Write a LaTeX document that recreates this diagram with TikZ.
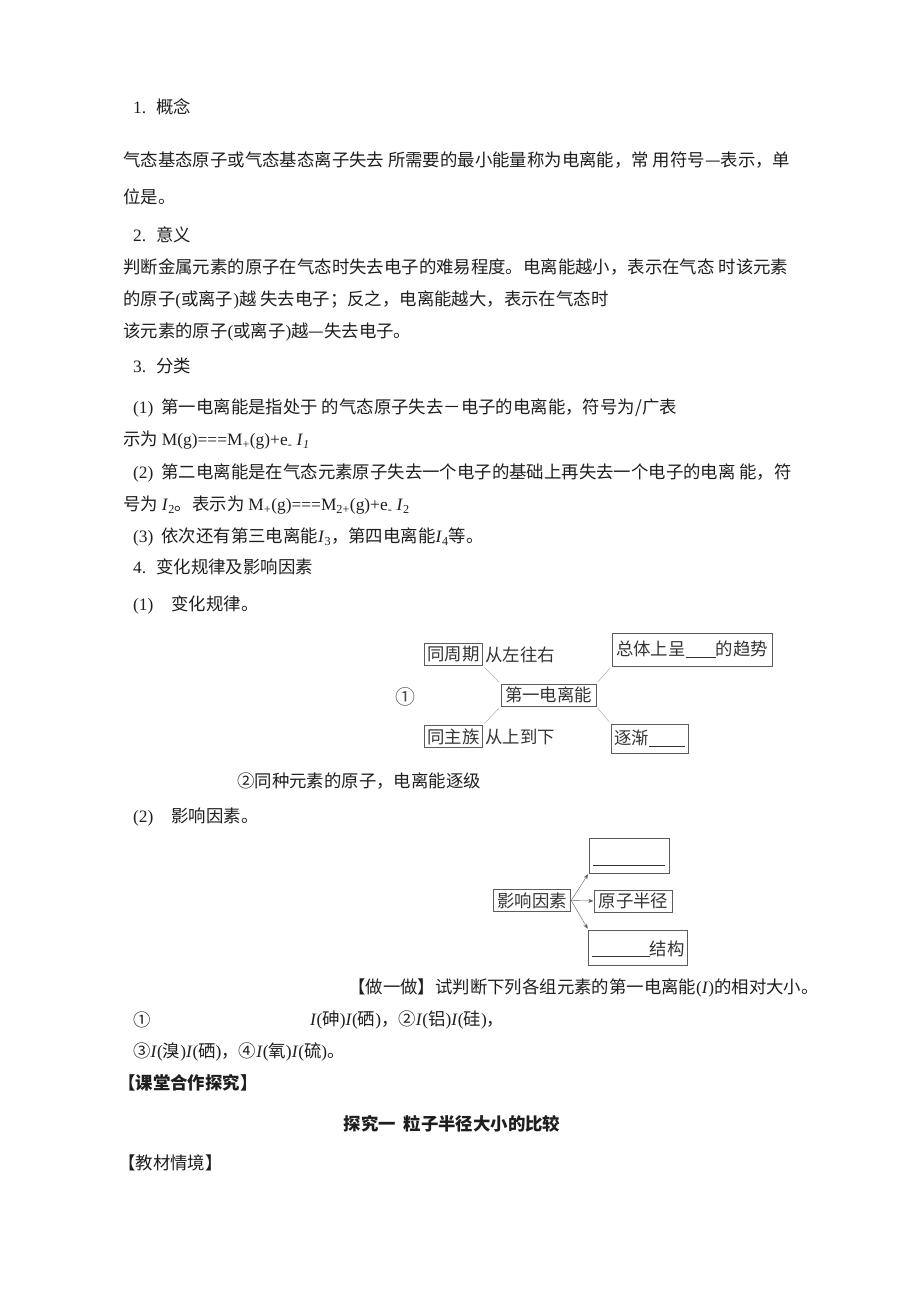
\documentclass[tikz,border=0pt]{standalone}
\usepackage{fontspec}
\setmainfont{Noto Sans CJK SC}
\newfontfamily\lat{Liberation Serif}
\usepackage{xcolor}
\usetikzlibrary{arrows.meta,positioning}
\definecolor{boxgray}{HTML}{5C5C5C}
\definecolor{linkgray}{HTML}{A0A0A0}
\definecolor{ink}{HTML}{1E1E1E}
\newcommand{\blank}[1]{\rule[-2pt]{#1}{0.6pt}}
\newcommand{\ienergy}[1]{{\lat\textit{I}\textsubscript{#1}}}
\tikzset{%
  line/.style={anchor=west,inner sep=0pt,text=ink},
  box/.style={draw=boxgray,line width=0.8pt,inner sep=3pt,text=black!80},
  link/.style={draw=linkgray,thin,shorten <=2pt,shorten >=2pt},
  arrow/.style={draw=boxgray,thin,-{Stealth[length=5pt,width=4pt]},shorten >=1pt},
}

\begin{document}
\begin{tikzpicture}[x=1pt,y=-1pt,font=\fontsize{17.4}{20}\selectfont]
      \useasboundingbox (0,0) rectangle (920,1302);

      % 1. concept
      \node[line] (concept) at (133,107) {{\lat 1.}\hspace{10pt}概念};
      \node[line] (conceptA) at (123,160) {气态基态原子或气态基态离子失去 所需要的最小能量称为电离能，常 用符号—表示，单};
      \node[line] (conceptB) at (123,197) {位是。};

      % 2. meaning
      \node[line] (meaning) at (133,235) {{\lat 2.}\hspace{10pt}意义};
      \node[line] (meaningA) at (123,267) {判断金属元素的原子在气态时失去电子的难易程度。电离能越小，表示在气态 时该元素};
      \node[line] (meaningB) at (123,300) {的原子{\lat (}或离子{\lat )}越 失去电子；反之，电离能越大，表示在气态时};
      \node[line] (meaningC) at (123,332) {该元素的原子{\lat (}或离子{\lat )}越—失去电子。};

      % 3. classes
      \node[line] (classes) at (133,366) {{\lat 3.}\hspace{10pt}分类};
      \node[line] (firstA) at (133,408) {{\lat (1)}\hspace{8pt}第一电离能是指处于 的气态原子失去－电子的电离能，符号为/广表};
      \node[line] (firstB) at (123,440) {示为 {\lat M(g)===M\textsubscript{+}(g)+e\textsubscript{-} \textit{I}\textsubscript{\textit{1}}}};
      \node[line] (secondA) at (133,473) {{\lat (2)}\hspace{8pt}第二电离能是在气态元素原子失去一个电子的基础上再失去一个电子的电离 能，符};
      \node[line] (secondB) at (123,505) {号为 \ienergy{2}。表示为 {\lat M\textsubscript{+}(g)===M\textsubscript{2+}(g)+e\textsubscript{-} }\ienergy{2}};
      \node[line] (thirdA) at (133,537) {{\lat (3)}\hspace{8pt}依次还有第三电离能\ienergy{3}，第四电离能\ienergy{4}等。};

      % 4. trends
      \node[line] (trends) at (133,567) {{\lat 4.}\hspace{10pt}变化规律及影响因素};
      \node[line] (rules) at (133,605) {{\lat (1)}\hspace{18pt}变化规律。};

      \node[inner sep=0pt,text=black!70] (markOne) at (405,697) {\fontsize{20}{22}\selectfont ①};
      \node[box,inner xsep=4pt] (firstIE) at (548.5,695) {第一电离能};
      \node[box] (period) at (453.5,654.5) {同周期};
      \node[inner sep=0pt,text=black!80,right=2pt of period] (leftRight) {从左往右};
      \node[box] (group) at (453.5,736.5) {同主族};
      \node[inner sep=0pt,text=black!80,right=2pt of group] (topDown) {从上到下};
      \node[box,minimum width=160pt,minimum height=33pt] (overall) at (692,649.5) {总体上呈\blank{30pt}的趋势};
      \node[box,minimum width=75pt,minimum height=29pt] (gradual) at (649.5,738.5) {逐渐\blank{36pt}};

      \draw[link] (period.south east) -- (firstIE.north west);
      \draw[link] (firstIE.north east) -- (overall.south west);
      \draw[link] (firstIE.south west) -- (group.north east);
      \draw[link] (firstIE.south east) -- (gradual.north west);

      \node[line] (stepwise) at (237,781) {②同种元素的原子，电离能逐级};
      \node[line] (factors) at (133,817) {{\lat (2)}\hspace{18pt}影响因素。};

      \node[box,inner xsep=4pt] (factorBox) at (532,900.5) {影响因素};
      \node[box,inner xsep=4pt] (radius) at (633.5,901) {原子半径};
      \node[box,inner xsep=4pt,inner ysep=3pt,text height=25pt,text depth=4pt] (chargeBox) at (629,855.5) {\rule{72pt}{0.6pt}};
      \node[box,inner ysep=5pt,text height=20pt,text depth=5pt] (shell) at (638,947.5) {\blank{58pt}结构};

      \draw[arrow] (factorBox.east) -- (chargeBox.south west);
      \draw[arrow] (factorBox.east) -- (radius.west);
      \draw[arrow] (factorBox.east) -- (shell.north west);

      % exercise
      \node[line] (tryIt) at (348,988) {【做一做】试判断下列各组元素的第一电离能{\lat (\textit{I})}的相对大小。};
      \node[line] (pairOne) at (133,1020) {①};
      \node[line] (pairTwo) at (310,1020) {{\lat\textit{I}(}砷{\lat )\textit{I}(}硒{\lat )}，②{\lat\textit{I}(}铝{\lat )\textit{I}(}硅{\lat )}，};
      \node[line] (pairThree) at (133,1052) {③{\lat\textit{I}(}溴{\lat )\textit{I}(}硒{\lat )}，④{\lat\textit{I}(}氧{\lat )\textit{I}(}硫{\lat )}。};

      \node[line] (classWork) at (118,1083) {\bfseries 【课堂合作探究】};
      \node[inner sep=0pt,text=ink] (inquiry) at (452,1124) {\bfseries 探究一\hspace{8pt}粒子半径大小的比较};
      \node[line] (scene) at (118,1163) {【教材情境】};
    \end{tikzpicture}
\end{document}
